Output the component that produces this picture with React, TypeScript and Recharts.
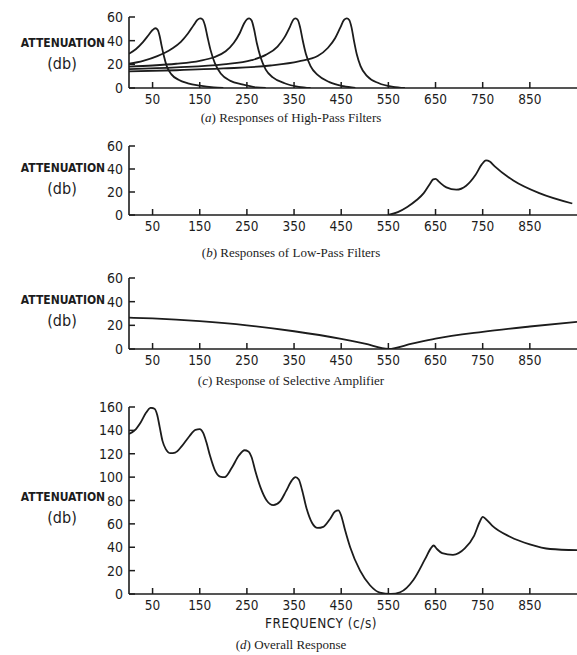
import React from "react";
import { LineChart, Line, XAxis, YAxis } from "recharts";

// ---------- data ----------
const xTicks = [50, 150, 250, 350, 450, 550, 650, 750, 850];
const yTicksSmall = [0, 20, 40, 60];
const yTicksBig = [0, 20, 40, 60, 80, 100, 120, 140, 160];

// (a) high-pass filters: frequency f (c/s), attenuation v (db)
const hp1 = [
  { f: 0, v: 29 }, { f: 15, v: 33 }, { f: 30, v: 39 }, { f: 42, v: 45 }, { f: 50, v: 49 },
  { f: 56, v: 50.5 }, { f: 61, v: 49 }, { f: 65, v: 44 }, { f: 69, v: 36 }, { f: 74, v: 27 },
  { f: 80, v: 18.5 }, { f: 90, v: 11.5 }, { f: 105, v: 7 }, { f: 125, v: 4 }, { f: 150, v: 2 },
  { f: 180, v: 0.5 }, { f: 200, v: 0 },
];
const hp2 = [
  { f: 0, v: 20.5 }, { f: 30, v: 23 }, { f: 60, v: 27 }, { f: 90, v: 33 }, { f: 110, v: 39 },
  { f: 125, v: 46 }, { f: 137, v: 53 }, { f: 145, v: 57.5 }, { f: 151, v: 58.8 }, { f: 156, v: 58 },
  { f: 161, v: 53 }, { f: 166, v: 44 }, { f: 173, v: 32 }, { f: 182, v: 21 }, { f: 195, v: 12 },
  { f: 215, v: 6 }, { f: 240, v: 3 }, { f: 270, v: 0.5 }, { f: 290, v: 0 },
];
const hp3 = [
  { f: 0, v: 18 }, { f: 50, v: 19 }, { f: 100, v: 20.5 }, { f: 150, v: 23 }, { f: 180, v: 26 },
  { f: 205, v: 31 }, { f: 222, v: 38 }, { f: 235, v: 46.5 }, { f: 244, v: 54.5 }, { f: 250, v: 58 },
  { f: 255, v: 58.8 }, { f: 260, v: 57 }, { f: 265, v: 50 }, { f: 271, v: 38 }, { f: 279, v: 26 },
  { f: 290, v: 15.5 }, { f: 305, v: 9 }, { f: 330, v: 4 }, { f: 360, v: 1 }, { f: 385, v: 0 },
];
const hp4 = [
  { f: 0, v: 16 }, { f: 100, v: 17.5 }, { f: 200, v: 20 }, { f: 260, v: 23.5 }, { f: 290, v: 28 },
  { f: 315, v: 35 }, { f: 330, v: 43 }, { f: 341, v: 51.5 }, { f: 348, v: 57.5 }, { f: 353, v: 58.8 },
  { f: 358, v: 57.5 }, { f: 363, v: 51 }, { f: 368, v: 41 }, { f: 375, v: 29 }, { f: 385, v: 18.5 },
  { f: 400, v: 11 }, { f: 425, v: 5 }, { f: 455, v: 1.5 }, { f: 480, v: 0 },
];
const hp5 = [
  { f: 0, v: 14 }, { f: 100, v: 15 }, { f: 200, v: 16.5 }, { f: 300, v: 19 }, { f: 360, v: 22.5 },
  { f: 400, v: 27 }, { f: 422, v: 34 }, { f: 437, v: 42 }, { f: 448, v: 51 }, { f: 456, v: 57.5 },
  { f: 462, v: 58.8 }, { f: 467, v: 57.5 }, { f: 472, v: 51 }, { f: 477, v: 40 }, { f: 483, v: 28.5 },
  { f: 491, v: 18.5 }, { f: 505, v: 10 }, { f: 530, v: 4 }, { f: 560, v: 1 }, { f: 585, v: 0 },
];

// (b) low-pass filters
const lowPass = [
  { f: 550, v: 0 }, { f: 570, v: 2.5 }, { f: 590, v: 7 }, { f: 610, v: 13 }, { f: 625, v: 19 },
  { f: 638, v: 27 }, { f: 645, v: 31 }, { f: 650, v: 31.5 }, { f: 657, v: 29 }, { f: 673, v: 24 },
  { f: 694, v: 22 }, { f: 715, v: 25.5 }, { f: 735, v: 35 }, { f: 748, v: 44 }, { f: 757, v: 47.5 },
  { f: 765, v: 46.5 }, { f: 775, v: 42.5 }, { f: 815, v: 30 }, { f: 870, v: 19 }, { f: 940, v: 10 },
];

// (c) selective amplifier
const selective = [
  { f: 0, v: 26.5 }, { f: 50, v: 25.8 }, { f: 150, v: 23.5 }, { f: 250, v: 20 }, { f: 350, v: 15 },
  { f: 450, v: 8.5 }, { f: 500, v: 4.5 }, { f: 550, v: 0 }, { f: 600, v: 4.5 }, { f: 650, v: 8.8 },
  { f: 750, v: 14.5 }, { f: 850, v: 19 }, { f: 950, v: 23 },
];

// (d) overall response
const overall = [
  { f: 0, v: 137 }, { f: 12, v: 140 }, { f: 25, v: 147 }, { f: 36, v: 155 }, { f: 46, v: 159.3 },
  { f: 54, v: 158.5 }, { f: 60, v: 153 }, { f: 65, v: 143 }, { f: 71, v: 131 }, { f: 78, v: 124 },
  { f: 88, v: 120.5 }, { f: 98, v: 121 }, { f: 112, v: 126.5 }, { f: 128, v: 135 }, { f: 141, v: 140.5 },
  { f: 150, v: 141 }, { f: 157, v: 138 }, { f: 164, v: 130 }, { f: 172, v: 118 }, { f: 182, v: 106 },
  { f: 193, v: 100.5 }, { f: 203, v: 100 }, { f: 218, v: 108 }, { f: 233, v: 118.5 }, { f: 245, v: 123 },
  { f: 253, v: 122 }, { f: 260, v: 117 }, { f: 268, v: 105 }, { f: 279, v: 91 }, { f: 292, v: 80 },
  { f: 306, v: 76 }, { f: 320, v: 79 }, { f: 333, v: 88 }, { f: 345, v: 97 }, { f: 353, v: 100 },
  { f: 360, v: 98 }, { f: 367, v: 89 }, { f: 376, v: 74 }, { f: 388, v: 61 }, { f: 400, v: 56.5 },
  { f: 412, v: 57.5 }, { f: 426, v: 64 }, { f: 437, v: 70.5 }, { f: 444, v: 71.5 }, { f: 450, v: 67 },
  { f: 458, v: 55 }, { f: 469, v: 40 }, { f: 490, v: 20 }, { f: 511, v: 7.5 }, { f: 532, v: 1.2 },
  { f: 555, v: 0 }, { f: 575, v: 1.5 }, { f: 603, v: 12 }, { f: 628, v: 30 }, { f: 640, v: 39 },
  { f: 646, v: 41.5 }, { f: 653, v: 38.5 }, { f: 664, v: 35 }, { f: 687, v: 33.5 }, { f: 712, v: 39 },
  { f: 732, v: 50 }, { f: 744, v: 62 }, { f: 750, v: 66 }, { f: 757, v: 64 }, { f: 770, v: 58.5 },
  { f: 808, v: 49 }, { f: 850, v: 42.5 }, { f: 893, v: 38.5 }, { f: 950, v: 37.5 },
];

// ---------- styling ----------
const INK = "#1c1c1c";
const W = 577;
const H = 655;
const AXIS_X = 129;
const TICK_FONT = "'DejaVu Sans Condensed', 'DejaVu Sans', sans-serif";
const SERIF = "'Liberation Serif', 'DejaVu Serif', serif";

const YTick = (props: any) => {
  const { x, y, payload } = props;
  return (
    <g>
      <line x1={x} x2={x + 6} y1={y} y2={y} stroke={INK} strokeWidth={1.5} />
      <text x={x - 6} y={y + 5} textAnchor="end" fontFamily={TICK_FONT} fontSize={14} fill={INK}>
        {payload.value}
      </text>
    </g>
  );
};

const XTick = (props: any) => {
  const { x, y, payload } = props;
  return (
    <g>
      <line x1={x} x2={x} y1={y} y2={y - 6} stroke={INK} strokeWidth={1.5} />
      <text x={x} y={y + 16} textAnchor="middle" fontFamily={TICK_FONT} fontSize={13.5} fill={INK}>
        {payload.value}
      </text>
    </g>
  );
};

type PanelProps = {
  topPx: number;
  bottomPx: number;
  ymax: number;
  yTicks: number[];
  series: { f: number; v: number }[][];
};

const Panel = ({ topPx, bottomPx, ymax, yTicks, series }: PanelProps) => {
  const xAxisH = 20;
  return (
    <div style={{ position: "absolute", left: 0, top: 0 }}>
      <LineChart
        width={W}
        height={H}
        margin={{ top: topPx, right: 0, left: 0, bottom: H - bottomPx - xAxisH }}
      >
        <XAxis
          dataKey="f"
          type="number"
          domain={[0, 950]}
          ticks={xTicks}
          interval={0}
          allowDataOverflow
          height={xAxisH}
          tickSize={0}
          tickMargin={0}
          tickLine={false}
          tick={<XTick />}
          axisLine={{ stroke: INK, strokeWidth: 1.6 }}
        />
        <YAxis
          dataKey="v"
          type="number"
          domain={[0, ymax]}
          ticks={yTicks}
          interval={0}
          allowDataOverflow
          width={AXIS_X}
          tickSize={0}
          tickMargin={0}
          tickLine={false}
          tick={<YTick />}
          axisLine={{ stroke: INK, strokeWidth: 1.6 }}
        />
        {series.map((d, i) => (
          <Line
            key={i}
            data={d}
            dataKey="v"
            type="monotone"
            stroke={INK}
            strokeWidth={1.8}
            dot={false}
            activeDot={false}
            isAnimationActive={false}
          />
        ))}
      </LineChart>
    </div>
  );
};

const YLabel = ({ y }: { y: number }) => (
  <g>
    <text x={63} y={y} textAnchor="middle" fontFamily={TICK_FONT} fontWeight={700} fontSize={12} fill={INK}>
      ATTENUATION
    </text>
    <text x={62} y={y + 22} textAnchor="middle" fontFamily={TICK_FONT} fontSize={16} fill={INK}>
      (db)
    </text>
  </g>
);

const Caption = ({ y, letter, text }: { y: number; letter: string; text: string }) => (
  <text x={291} y={y} textAnchor="middle" fontFamily={SERIF} fontSize={13} fill={INK}>
    (<tspan fontStyle="italic">{letter}</tspan>) {text}
  </text>
);

export default function App() {
  return (
    <div style={{ position: "absolute", left: 0, top: 0, width: W, height: H, background: "#fff", overflow: "hidden" }}>
      <Panel topPx={17} bottomPx={88} ymax={60} yTicks={yTicksSmall} series={[hp1, hp2, hp3, hp4, hp5]} />
      <Panel topPx={146} bottomPx={215} ymax={60} yTicks={yTicksSmall} series={[lowPass]} />
      <Panel topPx={278} bottomPx={349} ymax={60} yTicks={yTicksSmall} series={[selective]} />
      <Panel topPx={407} bottomPx={594} ymax={160} yTicks={yTicksBig} series={[overall]} />
      <svg width={W} height={H} style={{ position: "absolute", left: 0, top: 0, pointerEvents: "none" }}>
        <YLabel y={47} />
        <YLabel y={172} />
        <YLabel y={304} />
        <YLabel y={501} />
        <Caption y={122} letter="a" text="Responses of High-Pass Filters" />
        <Caption y={257} letter="b" text="Responses of Low-Pass Filters" />
        <Caption y={385} letter="c" text="Response of Selective Amplifier" />
        <Caption y={649} letter="d" text="Overall Response" />
        <text x={321} y={628} textAnchor="middle" fontFamily={TICK_FONT} fontSize={13.5} fill={INK} letterSpacing={0.5}>
          FREQUENCY  (c/s)
        </text>
      </svg>
    </div>
  );
}
